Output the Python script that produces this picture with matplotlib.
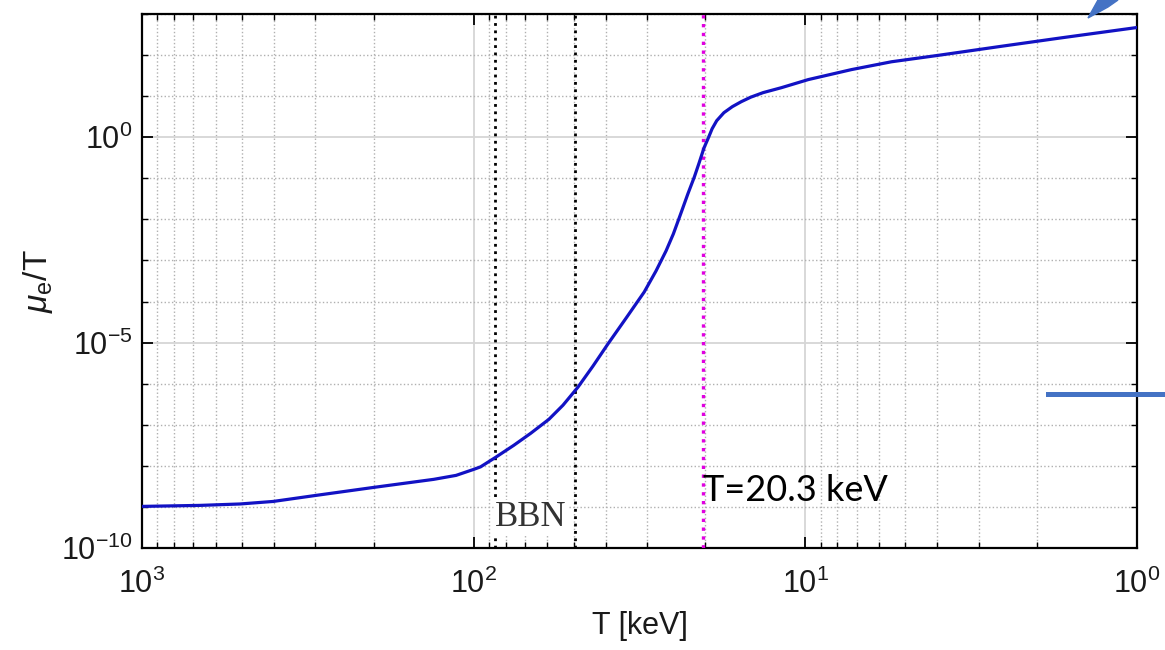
import numpy as np
import matplotlib
matplotlib.use('Agg')
import matplotlib.pyplot as plt
from matplotlib.ticker import FixedLocator, LogLocator, LogFormatterSciNotation, NullFormatter
from matplotlib.lines import Line2D
from matplotlib.patches import Polygon

# curve: T in keV, mu_e/T
T_keV = [1000, 668, 506, 402, 300, 200, 132, 113, 100, 95.3, 85.9, 75.7, 67.3,
         59.3, 53.8, 48.5, 43.7, 39.4, 34.7, 30.6, 28.2, 26.3, 25.0, 23.7,
         22.6, 21.6, 20.9, 20.2, 19.6, 19.1, 18.5, 17.6, 16.6, 15.6, 14.6,
         13.4, 11.8, 9.8, 7.26, 5.5, 3.96, 2.56, 1.69, 1.0]
mu_over_T = [1.03e-9, 1.09e-9, 1.18e-9, 1.36e-9, 1.9e-9, 2.99e-9, 4.69e-9,
             5.86e-9, 8.2e-9, 9.46e-9, 1.61e-8, 3.16e-8, 6.2e-8, 1.36e-7,
             2.99e-7, 8.2e-7, 2.67e-6, 9.2e-6, 3.96e-5, 1.71e-4, 5.55e-4,
             1.71e-3, 4.43e-3, 1.44e-2, 4.19e-2, 0.109, 0.239, 0.555, 0.97, 1.61,
             2.53, 3.96, 5.55, 7.34, 9.46, 12.2, 16.1, 25.3, 44.3, 68.7, 98.9,
             164, 263, 469]

bbn_T = [86, 49.5]
t_trans = 20.3

plt.rcParams['font.family'] = ['Liberation Sans', 'DejaVu Sans']
plt.rcParams['mathtext.fontset'] = 'custom'
plt.rcParams['mathtext.rm'] = 'Liberation Sans'
plt.rcParams['mathtext.it'] = 'Liberation Sans:italic'

fig = plt.figure(figsize=(11.65, 6.5), dpi=100)
ax = fig.add_axes([142/1165, 1 - 548/650, 995/1165, 534/650])

ax.plot(T_keV, mu_over_T, color='#1212c4', lw=2.3, zorder=5)
for t in bbn_T:
    ax.axvline(t, color='k', ls=':', lw=2, zorder=4)
ax.axvline(t_trans, color='#e000e0', ls=':', lw=2.4, zorder=4)

ax.set_xscale('log')
ax.set_yscale('log')
ax.set_xlim(1000, 1)
ax.set_ylim(1e-10, 1e3)

ax.yaxis.set_major_locator(FixedLocator([1e-10, 1e-5, 1e0]))
ax.yaxis.set_minor_locator(FixedLocator([10.0 ** k for k in range(-9, 4) if k % 5]))
ax.yaxis.set_major_formatter(LogFormatterSciNotation())
ax.yaxis.set_minor_formatter(NullFormatter())
ax.xaxis.set_major_locator(LogLocator(base=10, numticks=10))
ax.xaxis.set_minor_locator(LogLocator(base=10, subs=np.arange(2, 10), numticks=10))
ax.xaxis.set_minor_formatter(NullFormatter())

ax.grid(which='major', color='#d6d6d6', lw=1.3, ls='-')
ax.grid(which='minor', color='#b0b0b0', lw=1, ls=':')

ax.tick_params(which='both', direction='in', top=True, right=True,
               labelsize=22, labelcolor='#1a1a1a')
ax.tick_params(axis='x', which='both', pad=15)
ax.tick_params(axis='y', which='both', pad=7)
ax.tick_params(which='major', length=8, width=1.3)
ax.tick_params(which='minor', length=4, width=1)
for s in ax.spines.values():
    s.set_linewidth(1.6)

ax.set_xlabel('T [keV]', fontsize=22, color='#1a1a1a', labelpad=8)
ax.set_ylabel(r'$\mu_{\rm e}$/T', fontsize=24, color='#1a1a1a', labelpad=4)

ax.text(86, 5.5e-10, 'BBN', family='Liberation Serif', fontsize=25,
        ha='left', va='center', color='#333333', zorder=6,
        bbox=dict(facecolor='white', edgecolor='none', pad=1))
ax.text(t_trans, 2.5e-9, 'T=20.3 keV', family='Lato', fontsize=26,
        ha='left', va='center', color='black', zorder=6)

# slide decorations
fig.add_artist(Line2D([1048/1165, 1], [1 - 394/650, 1 - 394/650],
                      color='#4472C4', lw=3.6))
fig.add_artist(Polygon([[1088/1165, 1 - 18/650], [1098/1165, 1],
                        [1118/1165, 1], [1108/1165, 1 - 7/650]],
                       closed=True, color='#4472C4', transform=fig.transFigure))

fig.savefig('out.png', dpi=100)
